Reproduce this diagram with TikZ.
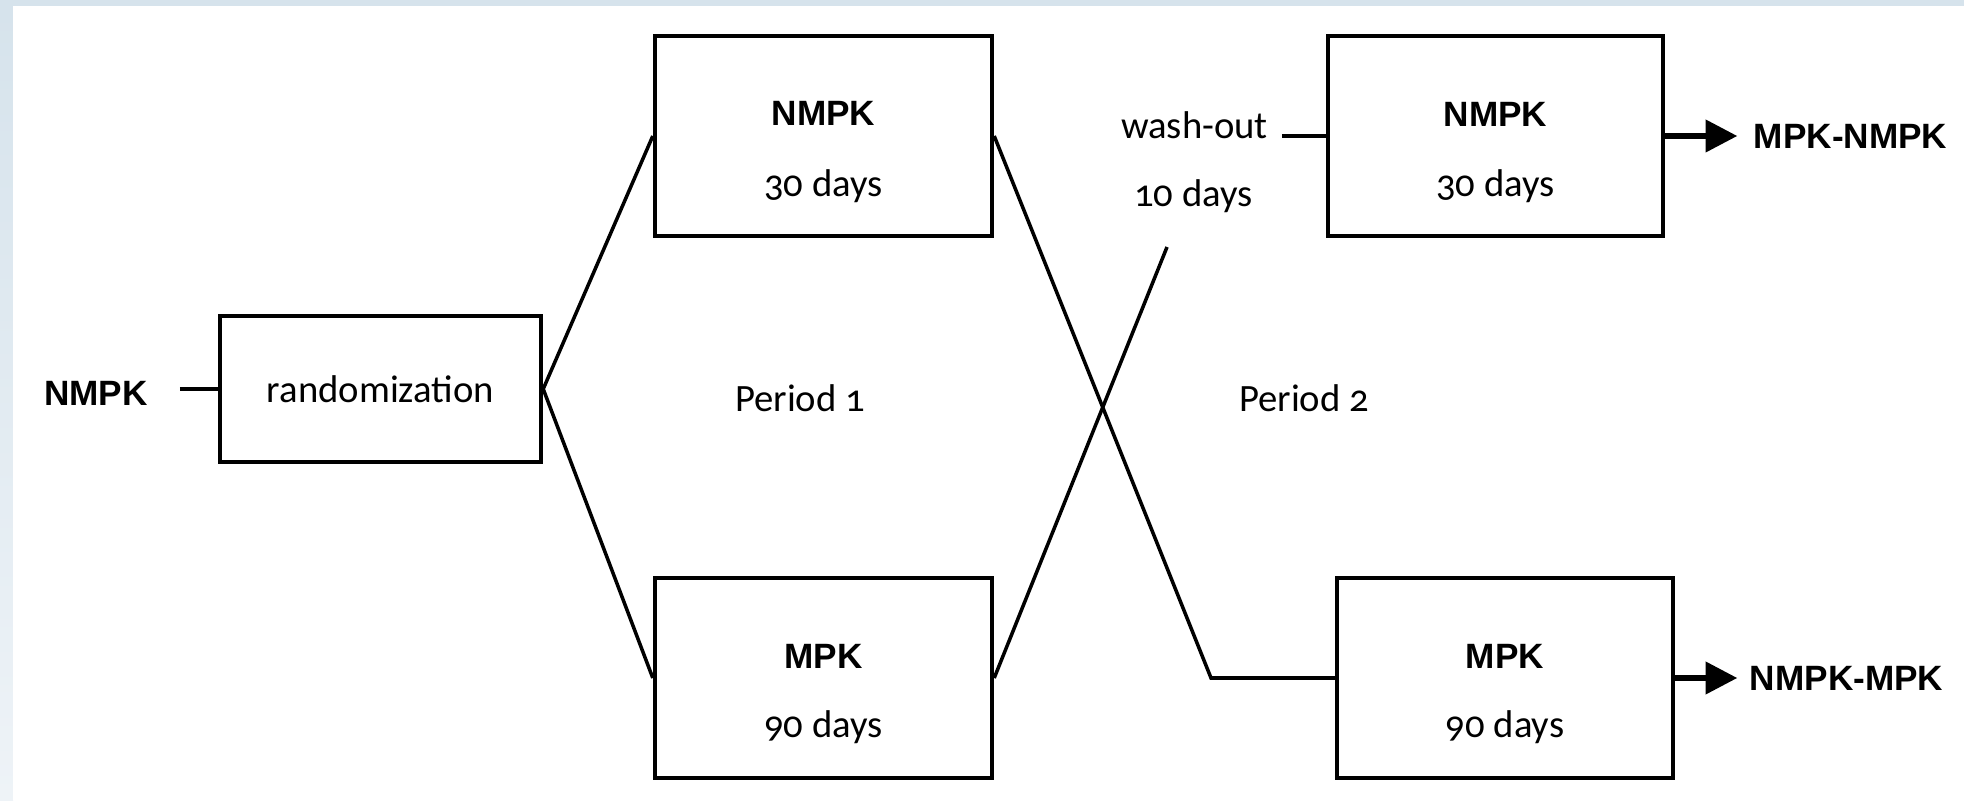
\documentclass[tikz,border=0pt]{standalone}
\usepackage{fontspec}
\setmainfont{Carlito}[Numbers=OldStyle]
\newfontfamily\labfont{Liberation Sans}
\usepackage{tikz}
\usetikzlibrary{arrows.meta,positioning}
\definecolor{slide}{HTML}{D6E3EC}
\definecolor{slidelow}{HTML}{EEF3F7}

\begin{document}
\begin{tikzpicture}[x=0.01cm,y=0.01cm,>={Triangle[length=9pt,width=9pt]},
 every node/.style={font=\fontsize{11}{13}\selectfont},
 box/.style={draw,line width=1.2pt,minimum width=3.37cm,minimum height=2cm,inner sep=0pt},
 tag/.style={font=\labfont\bfseries\fontsize{10}{12}\selectfont,inner sep=0pt},
 link/.style={line width=1pt}]
    % slide edge behind the figure
    \fill[slide] (0,0) rectangle (1964,800);
    \shade[top color=slide,bottom color=slidelow] (0,0) rectangle (13,794);
    \fill[white] (13,0) rectangle (1964,794);
    \useasboundingbox (0,0) rectangle (1964,800);

    \node[box,minimum width=3.21cm,minimum height=1.46cm] (rand) at (380.5,411)
        {randomization};
    \node[box] (nA) at (823.5,664) {};
    \node[box] (mA) at (823.5,122) {};
    \node[box,minimum width=3.35cm] (nB) at (1495.5,664) {};
    \node[box,minimum width=3.36cm] (mB) at (1505,122) {};

    \node[tag] (nAhead) at ([yshift=0.23cm]nA.center) {NMPK};
    \node (nAdays) at ([yshift=-0.5cm]nA.center) {30 days};
    \node[tag] (mAhead) at ([yshift=0.22cm]mA.center) {MPK};
    \node (mAdays) at ([yshift=-0.49cm]mA.center) {90 days};
    \node[tag] (nBhead) at ([yshift=0.22cm]nB.center) {NMPK};
    \node (nBdays) at ([yshift=-0.5cm]nB.center) {30 days};
    \node[tag] (mBhead) at ([yshift=0.22cm]mB.center) {MPK};
    \node (mBdays) at ([yshift=-0.49cm]mB.center) {90 days};

    % entry
    \node[tag] (src) at (96,407) {NMPK};
    \coordinate[left=0.38cm of rand.west] (srcend);
    \draw[line width=1.2pt] (srcend) -- (rand.west);

    % period 1
    \draw[link] (rand.east) -- (nA.west);
    \draw[link] (rand.east) -- (mA.west);
    \node (per1) at (800,402) {Period 1};

    % cross-over
    \coordinate (turn) at (1211,122);
    \coordinate (washend) at (1167,553);
    \draw[link] (nA.east) -- (turn) -- (mB.west);
    \draw[link] (mA.east) -- (washend);
    \node (wash) at (1194.5,675) {wash-out};
    \node (washdays) at (1193.5,604) {10 days};
    \coordinate[left=0.44cm of nB.west] (washin);
    \draw[line width=1.4pt] (washin) -- (nB.west);
    \node (per2) at (1304,402) {Period 2};

    % sequences
    \coordinate[right=0.72cm of nB.east] (outA);
    \coordinate[right=0.62cm of mB.east] (outB);
    \draw[->,line width=1.5pt] (nB.east) -- (outA);
    \draw[->,line width=1.5pt] (mB.east) -- (outB);
    \node[tag,right=0.16cm of outA] (resA) {MPK-NMPK};
    \node[tag,right=0.12cm of outB] (resB) {NMPK-MPK};
\end{tikzpicture}
\end{document}
